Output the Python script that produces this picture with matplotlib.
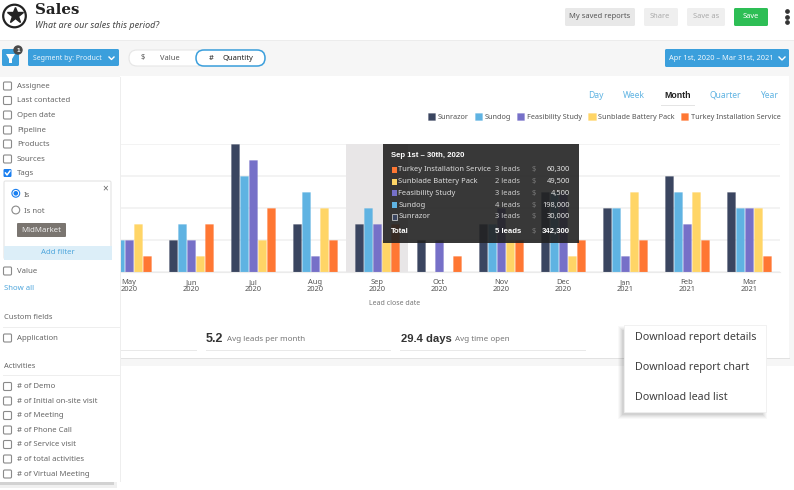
import matplotlib
matplotlib.use("Agg")
import matplotlib.pyplot as plt
from matplotlib.patches import Rectangle, FancyBboxPatch, Circle, Polygon

months = ["May\n2020", "Jun\n2020", "Jul\n2020", "Aug\n2020", "Sep\n2020", "Oct\n2020",
          "Nov\n2020", "Dec\n2020", "Jan\n2021", "Feb\n2021", "Mar\n2021"]
series_names = ["Sunrazor", "Sundog", "Feasibility Study", "Sunblade Battery Pack", "Turkey Installation Service"]
sunrazor = [2, 2, 8, 3, 3, 2, 3, 5, 4, 6, 5]
sundog = [2, 3, 6, 5, 4, 0, 3, 5, 4, 5, 4]
feasibility = [2, 2, 7, 1, 3, 2, 4, 5, 1, 3, 4]
sunblade = [3, 1, 2, 4, 2, 0, 2, 1, 5, 5, 4]
turkey = [1, 3, 4, 2, 3, 1, 2, 2, 2, 2, 1]
colors = ["#3A4560", "#5FB3E2", "#7670C8", "#FFD566", "#FF7733"]
filters_top = ["Assignee", "Last contacted", "Open date", "Pipeline", "Products", "Sources", "Tags"]
activities = ["# of Demo", "# of Initial on-site visit", "# of Meeting", "# of Phone Call",
              "# of Service visit", "# of total activities", "# of Virtual Meeting"]
tip_rows = ["Turkey Installation Service", "Sunblade Battery Pack", "Feasibility Study", "Sundog", "Sunrazor"]
tip_leads = ["3 leads", "2 leads", "3 leads", "4 leads", "3 leads"]
tip_values = ["60,300", "49,500", "4,500", "198,000", "30,000"]
periods = ["Day", "Week", "Month", "Quarter", "Year"]

W, H = 794, 490
FONT = ["Noto Sans", "DejaVu Sans"]
BOLD = ["Liberation Sans", "DejaVu Sans"]
plt.rcParams["font.family"] = FONT
fig = plt.figure(figsize=(W / 100, H / 100), dpi=100, facecolor="white")


def px_axes(z):
    a = fig.add_axes([0, 0, 1, 1], zorder=z)
    a.set_xlim(0, W)
    a.set_ylim(H, 0)
    a.axis("off")
    a.patch.set_alpha(0)
    return a


def px(size):
    return size * 0.72


def rect(a, x0, y0, x1, y1, color, ec="none", lw=0, alpha=1, z=1):
    a.add_patch(Rectangle((x0, y0), x1 - x0, y1 - y0, fc=color, ec=ec, lw=lw, alpha=alpha, zorder=z))


def rrect(a, x0, y0, x1, y1, color, r=1.5, ec="none", lw=0, z=2):
    a.add_patch(FancyBboxPatch((x0 + r, y0 + r), x1 - x0 - 2 * r, y1 - y0 - 2 * r,
                               boxstyle=f"round,pad={r},rounding_size={r}", fc=color, ec=ec, lw=lw, zorder=z))


def label(a, x, y, s, size=8.5, color="#555555", ha="left", weight="normal", style="normal", family=None, z=5):
    fam = family or (BOLD if weight == "bold" else FONT)
    a.text(x, y, s, fontsize=px(size), color=color, ha=ha, va="center", fontweight=weight,
           fontstyle=style, family=fam, zorder=z)


# ---------- background layer ----------
bg = px_axes(0)
rect(bg, 0, 0, W, 40, "white")
rect(bg, 0, 40, W, 41, "#ECECEC")
rect(bg, 0, 41, W, 366, "#F6F6F6")
rect(bg, 120, 358, 790, 359, "#E2E2E2", z=1)
rect(bg, 120, 76, 789, 358, "white", z=2)

# header
bg.add_patch(Circle((14.5, 16), 11.3, fc="white", ec="#222222", lw=1.6, zorder=3))
bg.plot([14.5], [15.5], marker="*", ms=12, color="#222222", zorder=4)
label(bg, 35, 10, "Sales", 15, "#222222", weight="bold", family=["DejaVu Serif"])
label(bg, 35, 25, "What are our sales this period?", 9, "#444444", style="italic")
rrect(bg, 565, 8, 635, 26, "#E8E8E8")
label(bg, 600, 17, "My saved reports", 7.5, "#555555", ha="center")
rrect(bg, 644, 8, 678, 26, "#EFEFEF")
label(bg, 660, 17, "Share", 7.5, "#AAAAAA", ha="center")
rrect(bg, 687, 8, 725, 26, "#EFEFEF")
label(bg, 706, 17, "Save as", 7.5, "#AAAAAA", ha="center")
rrect(bg, 734, 8, 768, 26, "#2DBE55")
label(bg, 751, 17, "Save", 7.5, "white", ha="center")
bg.plot([787, 787, 787], [11.5, 17, 22.5], "o", ms=2.4, color="#333333", zorder=4)

# toolbar
rrect(bg, 2, 49, 19, 66, "#3B9FDC")
bg.add_patch(Polygon([(6, 54), (15, 54), (12, 59), (12, 63), (9, 63), (9, 59)], fc="white", zorder=4))
bg.add_patch(Circle((18, 50), 4.7, fc="#4A4A4A", zorder=5))
label(bg, 18, 50, "1", 6.5, "white", ha="center", weight="bold", z=6)
rrect(bg, 28, 49, 119, 66, "#3B9FDC")
label(bg, 33, 58, "Segment by: Product", 7, "#EAF5FC")
bg.plot([109, 111.5, 114], [57, 59.5, 57], color="white", lw=1, zorder=5)
rrect(bg, 129, 50, 265, 66, "white", r=8, ec="#E6E6E6", lw=0.8)
rrect(bg, 196, 50, 265, 66, "white", r=8, ec="#3B9FDC", lw=1.1, z=3)
label(bg, 143, 58, "$", 7.5, "#555555", ha="center")
label(bg, 170, 58, "Value", 7.5, "#555555", ha="center")
label(bg, 211, 58, "#", 7.5, "#222222", ha="center")
label(bg, 238, 58, "Quantity", 7.5, "#222222", ha="center")
rrect(bg, 665, 49, 789, 67, "#3B9FDC")
label(bg, 669, 58.5, "Apr 1st, 2020 – Mar 31st, 2021", 7.4, "#F2F9FD")
bg.plot([779, 782, 785], [57, 60, 57], color="white", lw=1, zorder=5)

# period switch
for name, x in zip(periods, [596, 634, 678, 725, 769]):
    on = name == "Month"
    label(bg, x, 95, name, 8.8 if on else 8.5, "#222222" if on else "#5FB3E2", ha="center",
          weight="bold" if on else "normal")
rect(bg, 661, 105, 695, 105.8, "#E4E4E4", z=3)

# stats
for x0, x1 in [(120, 197), (206, 391), (400, 586)]:
    rect(bg, x0, 350, x1, 351, "#E9E9E9", z=3)
label(bg, 206, 339, "5.2", 12.5, "#333333", weight="bold")
label(bg, 227, 339.5, "Avg leads per month", 8, "#777777")
label(bg, 401, 339, "29.4 days", 11.2, "#333333", weight="bold")
label(bg, 455, 339.5, "Avg time open", 8, "#777777")

# ---------- chart: axes spans px x 0..780, y 144..272, one lead = 16 px ----------
ax = fig.add_axes([0, (H - 272) / H, 780 / W, 128 / H], zorder=1)
ax.patch.set_alpha(0)
step = 62.0
x_left = -129 / step
ax.set_xlim(x_left, x_left + 780 / step)
ax.set_ylim(0, 8)
positions = list(range(len(months)))
ax.axvspan(4 - 0.5, 4 + 0.5, color="#E8E6E7", lw=0, zorder=1)
bw = 7.2 / step
offset = 9 / step
handles = []
for k, vals in enumerate([sunrazor, sundog, feasibility, sunblade, turkey]):
    c = colors[k]
    b = ax.bar([p + (k - 2) * offset for p in positions], vals, width=bw, color=c,
               edgecolor=matplotlib.colors.to_rgba(c, 0.3), linewidth=0.6, zorder=2, label=series_names[k])
    handles.append(b)
ax.set_yticks([0, 2, 4, 6, 8])
ax.set_yticklabels([])
ax.grid(axis="y", color="#F1F1F1", lw=1.2, zorder=0)
ax.set_axisbelow(True)
ax.tick_params(length=0)
for s in ["top", "right", "left"]:
    ax.spines[s].set_visible(False)
ax.spines["bottom"].set_color("#EBEBEB")
ax.set_xticks(positions)
ax.set_xticklabels(months, fontsize=px(7.5), color="#555555", linespacing=1.0)
ax.tick_params(axis="x", pad=5)
ax.set_xlabel("Lead close date", fontsize=px(7), color="#777777", labelpad=5)
ax.xaxis.set_label_coords(395 / 780, -0.222)
fig.legend(handles=handles, labels=series_names, ncol=5, frameon=False,
           loc="center right", bbox_to_anchor=(780.5 / W, (H - 117) / H), fontsize=px(7.3),
           labelcolor="#555555", handlelength=1.0, handleheight=1.1, handletextpad=0.35,
           columnspacing=0.85, borderpad=0, borderaxespad=0)

# ---------- overlay ----------
ov = px_axes(2)
# tooltip
rect(ov, 383, 144, 578.5, 243, "#222222", alpha=0.9, z=2)
label(ov, 391, 155, "Sep 1st – 30th, 2020", 7.8, "white", weight="bold")
tip_colors = [colors[4], colors[3], colors[2], colors[1], colors[0]]
for i, y in enumerate([169.5, 181.5, 193, 205, 216.5]):
    rect(ov, 391.5, y - 3, 396.5, y + 3, tip_colors[i], ec="#DDDDDD" if i == 4 else "none", lw=0.5, z=4)
    label(ov, 398.5, y, tip_rows[i], 7.5, "#DDDDDD")
    label(ov, 495, y, tip_leads[i], 7.5, "#CCCCCC")
    label(ov, 534, y, "$", 7.5, "#777777", ha="center")
    label(ov, 570, y, tip_values[i], 7.5, "#E6E6E6", ha="right")
label(ov, 391, 231, "Total", 7.8, "white", weight="bold")
label(ov, 495, 231, "5 leads", 7.8, "white", weight="bold")
label(ov, 534, 231, "$", 7.5, "#777777", ha="center")
label(ov, 570, 231, "342,300", 7.8, "white", ha="right", weight="bold")

# left panel
rect(ov, 0, 482, 117, 488, "#000000", alpha=0.06, z=6)
rect(ov, 0, 482, 114, 485, "#000000", alpha=0.12, z=6)
rect(ov, 120, 77, 121, 482, "#EEEEEE", z=6)
rect(ov, 0, 77, 120, 482, "white", z=7)


def checkbox(y, checked=False):
    ov.add_patch(FancyBboxPatch((4.5, y - 3), 6, 6, boxstyle="round,pad=1,rounding_size=1.2",
                                fc="#1A7FF0" if checked else "white",
                                ec="none" if checked else "#8A8A8A", lw=0.8, zorder=8))
    if checked:
        ov.plot([5.5, 7, 10], [y, y + 2, y - 2], color="white", lw=1.1, zorder=9)


for name, y in zip(filters_top, [86, 100.5, 115, 130, 144, 159, 173]):
    checkbox(y, name == "Tags")
    label(ov, 17, y, name, 7.8, "#666666", z=9)
ov.add_patch(FancyBboxPatch((4, 181), 107, 78, boxstyle="round,pad=0,rounding_size=1.5",
                            fc="white", ec="#E4E4E4", lw=0.8, zorder=8))
rect(ov, 4, 246, 112, 259.5, "#DCEEF8", z=9)
label(ov, 58, 252.5, "Add filter", 7.8, "#4FA6DC", ha="center", z=10)
label(ov, 105, 189, "×", 10, "#666666", ha="center", z=10)
ov.add_patch(Circle((15.8, 193.3), 3.9, fc="white", ec="#1A7FF0", lw=0.8, zorder=9))
ov.add_patch(Circle((15.8, 193.3), 2.3, fc="#1A7FF0", zorder=10))
ov.add_patch(Circle((15.8, 210), 3.9, fc="white", ec="#8A8A8A", lw=0.8, zorder=9))
label(ov, 24, 195, "Is", 7.8, "#666666", z=10)
label(ov, 24, 211, "Is not", 7.8, "#666666", z=10)
rrect(ov, 17, 223, 66, 237, "#7A7570", r=1, z=9)
label(ov, 41.5, 230, "MidMarket", 7.8, "#EEEEEE", ha="center", z=10)
checkbox(271)
label(ov, 17, 271, "Value", 7.8, "#666666", z=9)
label(ov, 3.5, 288, "Show all", 7.8, "#4FA6DC", z=9)
label(ov, 3.5, 317.5, "Custom fields", 7.5, "#666666", z=9)
rect(ov, 3, 327, 120, 328, "#EEEEEE", z=9)
checkbox(338)
label(ov, 17, 338, "Application", 7.8, "#666666", z=9)
label(ov, 3.5, 366, "Activities", 7.5, "#666666", z=9)
rect(ov, 3, 375, 120, 376, "#EEEEEE", z=9)
for name, y in zip(activities, [386.5, 401, 415.5, 430, 444.5, 459, 474]):
    checkbox(y)
    label(ov, 17, y, name, 7.8, "#666666", z=9)

# download menu, soft shadow built from stacked translucent layers
for grow, al in [(5, 0.025), (4, 0.03), (3, 0.035), (2, 0.04), (1, 0.05)]:
    rect(ov, 623 - grow, 329 - grow + 2, 762 + grow, 414 + grow, "#000000", alpha=al, z=6)
rect(ov, 624, 325, 765.5, 412, "white", ec="#EFEFEF", lw=0.6, z=7)
for s, y in zip(["Download report details", "Download report chart", "Download lead list"], [337.5, 367.5, 397.5]):
    label(ov, 635, y, s, 10.7, "#3F3F3F", z=9)

fig.savefig("out.png", dpi=100)
